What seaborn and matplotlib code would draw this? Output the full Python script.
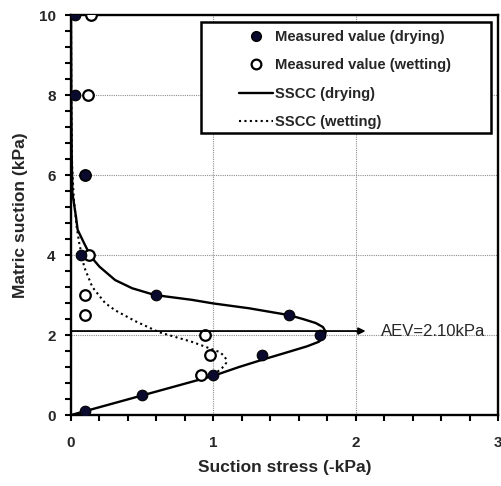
import matplotlib
matplotlib.use("Agg")
import matplotlib.pyplot as plt
from matplotlib.ticker import MultipleLocator
from matplotlib.lines import Line2D
from matplotlib.patches import Rectangle
import seaborn as sns

sns.set_theme(style="white")
plt.rcParams["font.family"] = ["Liberation Sans", "DejaVu Sans"]

# Measured suction stress (x, -kPa) against matric suction (y, kPa)
dry_stress = [0.03, 0.03, 0.10, 0.07, 0.60, 1.53, 1.75, 1.34, 1.00, 0.50, 0.10]
dry_suction = [10.0, 8.0, 6.0, 4.0, 3.0, 2.5, 2.0, 1.5, 1.0, 0.5, 0.1]

wet_stress = [0.14, 0.12, 0.10, 0.13, 0.10, 0.10, 0.94, 0.98, 0.91]
wet_suction = [10.0, 8.0, 6.0, 4.0, 3.0, 2.5, 2.0, 1.5, 1.0]

# Suction stress characteristic curves
sscc_dry_stress = [0.0, 0.5, 1.0, 1.18, 1.36, 1.53, 1.66, 1.74, 1.78, 1.79,
                   1.77, 1.72, 1.63, 1.53, 1.25, 1.0, 0.85, 0.59, 0.43, 0.31,
                   0.2, 0.14, 0.093, 0.07, 0.047, 0.035, 0.01, 0.005, 0.002, 0.0]
sscc_dry_suction = [0.0, 0.49, 0.98, 1.2, 1.4, 1.58, 1.72, 1.83, 1.95, 2.08,
                    2.2, 2.3, 2.4, 2.5, 2.67, 2.79, 2.88, 3.0, 3.17, 3.375,
                    3.71, 3.96, 4.29, 4.46, 4.63, 4.96, 5.55, 6.5, 8.0, 10.0]

sscc_wet_stress = [1.0, 1.06, 1.09, 1.09, 1.07, 1.04, 0.95, 0.85, 0.62, 0.45,
                   0.31, 0.24, 0.15, 0.093, 0.058, 0.04, 0.02, 0.008, 0.003, 0.0]
sscc_wet_suction = [1.0, 1.17, 1.3, 1.4, 1.5, 1.58, 1.7, 1.83, 2.07, 2.35,
                    2.62, 2.8, 3.2, 3.7, 4.3, 4.7, 5.4, 6.2, 7.5, 10.0]

aev = 2.10

fig, ax = plt.subplots(figsize=(5.02, 4.86), dpi=100)
fig.subplots_adjust(left=0.1414, right=0.992, bottom=0.146, top=0.969)

ax.grid(True, which="major", color="#8f8f8f", linestyle=(0, (1, 1)), linewidth=0.8)
ax.set_axisbelow(True)

sns.lineplot(x=sscc_dry_stress, y=sscc_dry_suction, sort=False, estimator=None,
             color="black", linewidth=1.7, ax=ax, zorder=3)
sns.lineplot(x=sscc_wet_stress, y=sscc_wet_suction, sort=False, estimator=None,
             color="black", linewidth=1.5, linestyle=(0, (1, 1.6)), ax=ax, zorder=3)

sns.scatterplot(x=wet_stress, y=wet_suction, marker="o", s=58, facecolor="white",
                edgecolor="black", linewidth=1.6, ax=ax, zorder=4)
sns.scatterplot(x=dry_stress, y=dry_suction, marker="o", s=58, color="#0a0a2e",
                edgecolor="black", linewidth=0.8, ax=ax, zorder=5)

# Air-entry value marker
ax.annotate("", xy=(2.07, aev), xytext=(0, aev),
            arrowprops=dict(arrowstyle="-|>", color="black", lw=1.3,
                            mutation_scale=10, shrinkA=0, shrinkB=0), zorder=6)
ax.text(2.18, aev, f"AEV={aev:.2f}kPa", fontsize=12, va="center", ha="left")

ax.set_xlim(0, 3)
ax.set_ylim(0, 10)
ax.xaxis.set_major_locator(MultipleLocator(1))
ax.xaxis.set_minor_locator(MultipleLocator(0.2))
ax.yaxis.set_major_locator(MultipleLocator(2))
ax.yaxis.set_minor_locator(MultipleLocator(0.4))
ax.tick_params(which="both", direction="out", length=4, width=1.5, color="black",
               bottom=True, left=True, top=False, right=False)
ax.tick_params(which="major", labelsize=11)
ax.tick_params(axis="x", which="major", pad=11)
ax.tick_params(axis="y", which="major", pad=7)
for lab in ax.get_xticklabels() + ax.get_yticklabels():
    lab.set_fontweight("bold")

for sp in ax.spines.values():
    sp.set_visible(True)
    sp.set_color("black")
    sp.set_linewidth(1.7)

ax.set_xlabel("Suction stress (-kPa)", fontsize=12.5, fontweight="bold", labelpad=7)
ax.set_ylabel("Matric suction (kPa)", fontsize=12.5, fontweight="bold", labelpad=8)

handles = [
    Line2D([], [], marker="o", linestyle="none", markersize=7,
           markerfacecolor="#0a0a2e", markeredgecolor="black"),
    Line2D([], [], marker="o", linestyle="none", markersize=7,
           markerfacecolor="white", markeredgecolor="black", markeredgewidth=1.6),
    Line2D([], [], color="black", linewidth=1.7),
    Line2D([], [], color="black", linewidth=1.5, linestyle=(0, (1, 1.6))),
]
labels = ["Measured value (drying)", "Measured value (wetting)",
          "SSCC (drying)", "SSCC (wetting)"]
leg = ax.legend(handles, labels, loc="upper left", bbox_to_anchor=(0.3934, 0.963),
                frameon=False, prop={"weight": "bold", "size": 10.6},
                handlelength=2.3, handletextpad=0.15, labelspacing=0.98,
                borderpad=0, borderaxespad=0)
leg.set_zorder(7)

# Legend frame
ax.add_patch(Rectangle((0.3044, 0.705), 0.6792, 0.2775, transform=ax.transAxes,
                       facecolor="white", edgecolor="black", linewidth=1.8,
                       zorder=6.5))

fig.savefig("out.png", dpi=100)
